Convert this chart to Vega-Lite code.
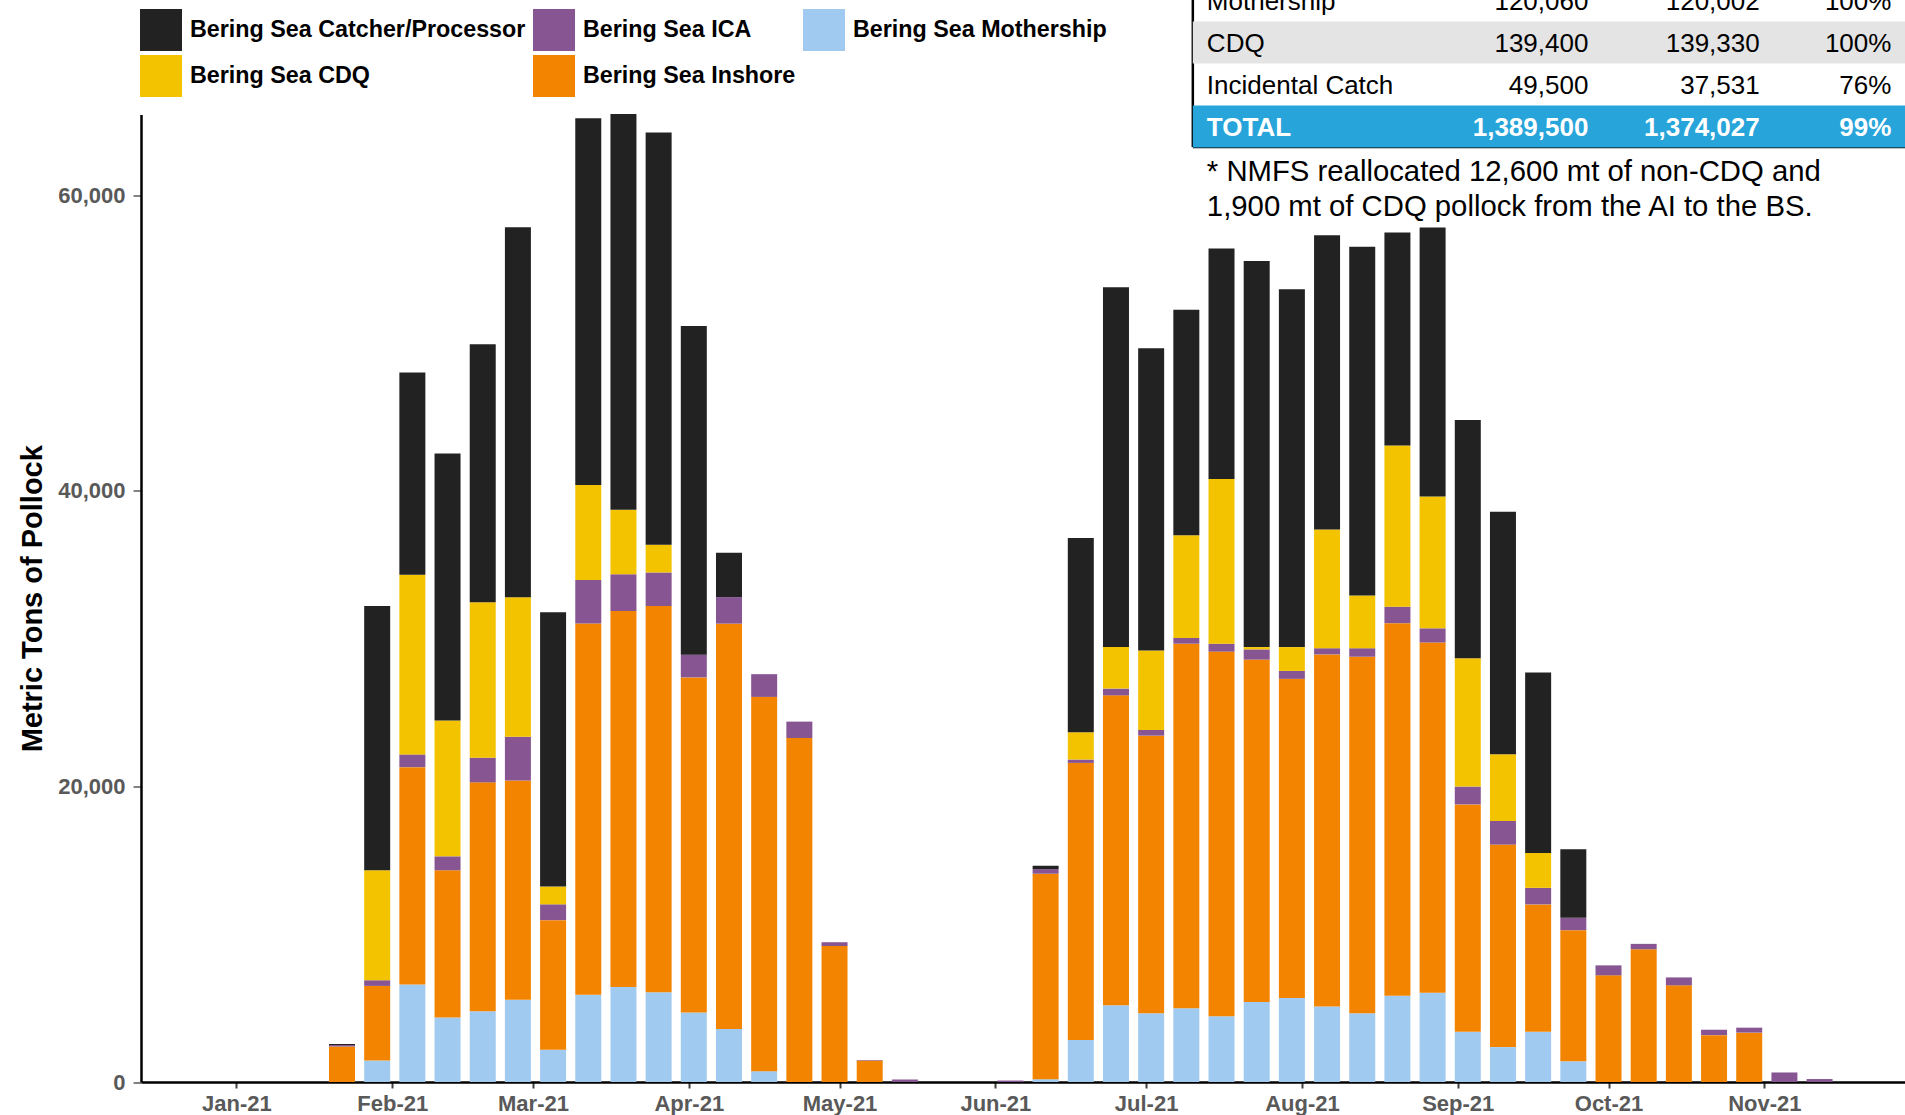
{
  "$schema": "https://vega.github.io/schema/vega-lite/v6.json",
  "width": 1764,
  "height": 967.5,
  "autosize": {"type": "none"},
  "padding": {"left": 141, "top": 114.5, "right": 0, "bottom": 33},
  "background": "white",
  "config": {"view": {"stroke": null}, "font": "Liberation Sans"},
  "datasets": {
    "weekly": [
      {"date": "2021-01-22T00:00", "Mothership": 0, "Inshore": 2400, "ICA": 100, "CDQ": 0, "Catcher/Processor": 70},
      {"date": "2021-01-29T00:00", "Mothership": 1450, "Inshore": 5050, "ICA": 385, "CDQ": 7440, "Catcher/Processor": 17880},
      {"date": "2021-02-05T00:00", "Mothership": 6590, "Inshore": 14710, "ICA": 860, "CDQ": 12150, "Catcher/Processor": 13690},
      {"date": "2021-02-12T00:00", "Mothership": 4360, "Inshore": 9965, "ICA": 940, "CDQ": 9195, "Catcher/Processor": 18050},
      {"date": "2021-02-19T00:00", "Mothership": 4790, "Inshore": 15480, "ICA": 1670, "CDQ": 10520, "Catcher/Processor": 17450},
      {"date": "2021-02-26T00:00", "Mothership": 5560, "Inshore": 14840, "ICA": 2950, "CDQ": 9450, "Catcher/Processor": 25020},
      {"date": "2021-03-05T00:00", "Mothership": 2180, "Inshore": 8770, "ICA": 1070, "CDQ": 1200, "Catcher/Processor": 18560},
      {"date": "2021-03-12T00:00", "Mothership": 5900, "Inshore": 25110, "ICA": 2950, "CDQ": 6420, "Catcher/Processor": 24810},
      {"date": "2021-03-19T00:00", "Mothership": 6420, "Inshore": 25450, "ICA": 2480, "CDQ": 4360, "Catcher/Processor": 26770},
      {"date": "2021-03-26T00:00", "Mothership": 6070, "Inshore": 26130, "ICA": 2270, "CDQ": 1880, "Catcher/Processor": 27890},
      {"date": "2021-04-02T00:00", "Mothership": 4700, "Inshore": 22670, "ICA": 1540, "CDQ": 0, "Catcher/Processor": 22240},
      {"date": "2021-04-09T00:00", "Mothership": 3590, "Inshore": 27415, "ICA": 1800, "CDQ": 0, "Catcher/Processor": 2990},
      {"date": "2021-04-16T00:00", "Mothership": 730, "Inshore": 25320, "ICA": 1540, "CDQ": 0, "Catcher/Processor": 0},
      {"date": "2021-04-23T00:00", "Mothership": 0, "Inshore": 23270, "ICA": 1110, "CDQ": 0, "Catcher/Processor": 0},
      {"date": "2021-04-30T00:00", "Mothership": 0, "Inshore": 9200, "ICA": 256, "CDQ": 0, "Catcher/Processor": 0},
      {"date": "2021-05-07T00:00", "Mothership": 0, "Inshore": 1450, "ICA": 40, "CDQ": 0, "Catcher/Processor": 0},
      {"date": "2021-05-14T00:00", "Mothership": 0, "Inshore": 0, "ICA": 170, "CDQ": 0, "Catcher/Processor": 0},
      {"date": "2021-06-04T00:00", "Mothership": 0, "Inshore": 0, "ICA": 100, "CDQ": 0, "Catcher/Processor": 0},
      {"date": "2021-06-11T00:00", "Mothership": 190, "Inshore": 13900, "ICA": 310, "CDQ": 0, "Catcher/Processor": 230},
      {"date": "2021-06-18T00:00", "Mothership": 2840, "Inshore": 18745, "ICA": 230, "CDQ": 1845, "Catcher/Processor": 13135},
      {"date": "2021-06-25T00:00", "Mothership": 5185, "Inshore": 20970, "ICA": 460, "CDQ": 2805, "Catcher/Processor": 24350},
      {"date": "2021-07-02T00:00", "Mothership": 4650, "Inshore": 18780, "ICA": 385, "CDQ": 5380, "Catcher/Processor": 20435},
      {"date": "2021-07-09T00:00", "Mothership": 4990, "Inshore": 24660, "ICA": 385, "CDQ": 6950, "Catcher/Processor": 15250},
      {"date": "2021-07-16T00:00", "Mothership": 4455, "Inshore": 24660, "ICA": 540, "CDQ": 11140, "Catcher/Processor": 15595},
      {"date": "2021-07-23T00:00", "Mothership": 5415, "Inshore": 23160, "ICA": 690, "CDQ": 155, "Catcher/Processor": 26120},
      {"date": "2021-07-30T00:00", "Mothership": 5685, "Inshore": 21585, "ICA": 540, "CDQ": 1610, "Catcher/Processor": 24200},
      {"date": "2021-08-06T00:00", "Mothership": 5110, "Inshore": 23815, "ICA": 420, "CDQ": 8030, "Catcher/Processor": 19900},
      {"date": "2021-08-13T00:00", "Mothership": 4650, "Inshore": 24120, "ICA": 575, "CDQ": 3570, "Catcher/Processor": 23585},
      {"date": "2021-08-20T00:00", "Mothership": 5840, "Inshore": 25200, "ICA": 1115, "CDQ": 10910, "Catcher/Processor": 14405},
      {"date": "2021-08-27T00:00", "Mothership": 6030, "Inshore": 23700, "ICA": 960, "CDQ": 8910, "Catcher/Processor": 18205},
      {"date": "2021-09-03T00:00", "Mothership": 3400, "Inshore": 15380, "ICA": 1205, "CDQ": 8675, "Catcher/Processor": 16120},
      {"date": "2021-09-10T00:00", "Mothership": 2360, "Inshore": 13700, "ICA": 1600, "CDQ": 4520, "Catcher/Processor": 16390},
      {"date": "2021-09-17T00:00", "Mothership": 3395, "Inshore": 8620, "ICA": 1120, "CDQ": 2360, "Catcher/Processor": 12210},
      {"date": "2021-09-24T00:00", "Mothership": 1400, "Inshore": 8870, "ICA": 840, "CDQ": 0, "Catcher/Processor": 4630},
      {"date": "2021-10-01T00:00", "Mothership": 0, "Inshore": 7215, "ICA": 675, "CDQ": 0, "Catcher/Processor": 0},
      {"date": "2021-10-08T00:00", "Mothership": 0, "Inshore": 8980, "ICA": 365, "CDQ": 0, "Catcher/Processor": 0},
      {"date": "2021-10-15T00:00", "Mothership": 0, "Inshore": 6540, "ICA": 535, "CDQ": 0, "Catcher/Processor": 0},
      {"date": "2021-10-22T00:00", "Mothership": 0, "Inshore": 3170, "ICA": 365, "CDQ": 0, "Catcher/Processor": 0},
      {"date": "2021-10-29T00:00", "Mothership": 0, "Inshore": 3340, "ICA": 335, "CDQ": 0, "Catcher/Processor": 0},
      {"date": "2021-11-05T00:00", "Mothership": 0, "Inshore": 0, "ICA": 645, "CDQ": 0, "Catcher/Processor": 0},
      {"date": "2021-11-12T00:00", "Mothership": 0, "Inshore": 0, "ICA": 200, "CDQ": 0, "Catcher/Processor": 0}
    ],
    "table": [
      {"row": "Mothership", "alloc": "120,060", "catch": "120,002", "pct": "100%"},
      {"row": "CDQ", "alloc": "139,400", "catch": "139,330", "pct": "100%"},
      {"row": "Incidental Catch", "alloc": "49,500", "catch": "37,531", "pct": "76%"},
      {"row": "TOTAL", "alloc": "1,389,500", "catch": "1,374,027", "pct": "99%"}
    ],
    "note": [{"text": "* NMFS reallocated 12,600 mt of non-CDQ and\n1,900 mt of CDQ pollock from the AI to the BS."}],
    "one": [{}]
  },
  "layer": [
    {
      "layer": [
        {
          "data": {"name": "weekly"},
          "transform": [
            {"fold": ["Mothership", "Inshore", "ICA", "CDQ", "Catcher/Processor"], "as": ["fleet", "tons"]},
            {"calculate": "indexof(['Mothership','Inshore','ICA','CDQ','Catcher/Processor'], datum.fleet)", "as": "rank"}
          ],
          "mark": {"type": "bar", "size": 26},
          "encoding": {
            "x": {
              "field": "date", "type": "temporal",
              "scale": {"domain": [{"year": 2020, "month": 12, "date": 14}, {"year": 2021, "month": 11, "date": 28}]},
              "axis": {
                "format": "%b-%y", "tickCount": {"interval": "month", "step": 1}, "grid": false,
                "domainColor": "#000000", "domainWidth": 2.5, "tickColor": "#404040", "tickWidth": 2, "tickSize": 6,
                "labelPadding": 5.5, "labelFontSize": 22, "labelFontWeight": "bold", "labelColor": "#595959",
                "labelFlush": false, "labelOverlap": false, "title": null
              }
            },
            "y": {
              "field": "tons", "type": "quantitative", "stack": "zero",
              "scale": {"domain": [0, 65450], "nice": false},
              "axis": {
                "values": [0, 20000, 40000, 60000], "labelExpr": "format(datum.value, ',')", "grid": false,
                "domainColor": "#000000", "domainWidth": 2.5, "tickColor": "#595959", "tickWidth": 1.5, "tickSize": 8,
                "labelPadding": 8, "labelFontSize": 22, "labelFontWeight": "bold", "labelColor": "#595959",
                "title": "Metric Tons of Pollock", "titleFontSize": 29, "titleFontWeight": "bold", "titleColor": "#000000", "titlePadding": 10
              }
            },
            "color": {
              "field": "fleet", "type": "nominal",
              "scale": {
                "domain": ["Catcher/Processor", "ICA", "Mothership", "CDQ", "Inshore"],
                "range": ["#222222", "#875692", "#A1CAF1", "#F3C300", "#F38400"]
              },
              "legend": {
                "orient": "none", "legendX": -1, "legendY": -105.5, "direction": "horizontal", "columns": 3,
                "title": null, "symbolType": "square", "symbolSize": 1764, "symbolStrokeWidth": 0,
                "labelFontSize": 23.3, "labelFontWeight": "bold", "labelColor": "#000000", "labelOffset": 8,
                "labelLimit": 0, "columnPadding": 7, "rowPadding": 4, "padding": 0,
                "labelExpr": "'Bering Sea ' + datum.label"
              }
            },
            "order": {"field": "rank", "type": "quantitative", "sort": "ascending"}
          }
        },
        {
          "data": {"name": "note"},
          "mark": {"type": "text", "align": "left", "baseline": "alphabetic", "fontSize": 29.3, "lineBreak": "\n", "lineHeight": 35, "color": "#000000"},
          "encoding": {
            "x": {"datum": {"year": 2021, "month": 7, "date": 13, "hours": 2}, "type": "temporal"},
            "y": {"datum": 60918, "type": "quantitative"},
            "text": {"field": "text"}
          }
        },
        {
          "data": {"name": "one"},
          "mark": {"type": "rule", "color": "#000000", "strokeWidth": 2.5},
          "encoding": {
            "x": {"datum": {"year": 2021, "month": 7, "date": 10, "hours": 7}, "type": "temporal"},
            "y": {"datum": 63252, "type": "quantitative"},
            "y2": {"datum": 76000}
          }
        },
        {
          "data": {"name": "one"},
          "mark": {"type": "rule", "color": "#000000", "strokeWidth": 2.5},
          "encoding": {
            "x": {"datum": {"year": 2021, "month": 7, "date": 10, "hours": 7}, "type": "temporal"},
            "x2": {"datum": {"year": 2021, "month": 12, "date": 20}},
            "y": {"datum": 63252, "type": "quantitative"}
          }
        }
      ]
    },
    {
      "data": {"name": "table"},
      "encoding": {
        "y": {
          "field": "row", "type": "nominal",
          "scale": {"type": "band", "domain": ["Mothership", "CDQ", "Incidental Catch", "TOTAL"], "range": [-135, 33], "paddingInner": 0, "paddingOuter": 0},
          "axis": null
        }
      },
      "layer": [
        {
          "transform": [{"filter": "datum.row === 'CDQ'"}],
          "mark": {"type": "bar", "color": "#E4E4E4"},
          "encoding": {
            "x": {"datum": {"year": 2021, "month": 7, "date": 10, "hours": 7}, "type": "temporal"},
            "x2": {"datum": {"year": 2021, "month": 12, "date": 20}}
          }
        },
        {
          "transform": [{"filter": "datum.row === 'TOTAL'"}],
          "mark": {"type": "bar", "color": "#27A4DA"},
          "encoding": {
            "x": {"datum": {"year": 2021, "month": 7, "date": 10, "hours": 7}, "type": "temporal"},
            "x2": {"datum": {"year": 2021, "month": 12, "date": 20}}
          }
        },
        {
          "transform": [{"filter": "datum.row !== 'TOTAL'"}],
          "mark": {"type": "text", "align": "left", "baseline": "middle", "fontSize": 26, "color": "#000000", "dy": 1.5},
          "encoding": {"x": {"datum": {"year": 2021, "month": 7, "date": 13, "hours": 2}, "type": "temporal"}, "text": {"field": "row"}}
        },
        {
          "transform": [{"filter": "datum.row !== 'TOTAL'"}],
          "mark": {"type": "text", "align": "right", "baseline": "middle", "fontSize": 26, "color": "#000000", "dy": 1.5},
          "encoding": {"x": {"datum": {"year": 2021, "month": 9, "date": 27}, "type": "temporal"}, "text": {"field": "alloc"}}
        },
        {
          "transform": [{"filter": "datum.row !== 'TOTAL'"}],
          "mark": {"type": "text", "align": "right", "baseline": "middle", "fontSize": 26, "color": "#000000", "dy": 1.5},
          "encoding": {"x": {"datum": {"year": 2021, "month": 10, "date": 31, "hours": 2}, "type": "temporal"}, "text": {"field": "catch"}}
        },
        {
          "transform": [{"filter": "datum.row !== 'TOTAL'"}],
          "mark": {"type": "text", "align": "right", "baseline": "middle", "fontSize": 26, "color": "#000000", "dy": 1.5},
          "encoding": {"x": {"datum": {"year": 2021, "month": 11, "date": 26, "hours": 7}, "type": "temporal"}, "text": {"field": "pct"}}
        },
        {
          "transform": [{"filter": "datum.row === 'TOTAL'"}],
          "mark": {"type": "text", "align": "left", "baseline": "middle", "fontSize": 26, "fontWeight": "bold", "color": "#FFFFFF", "dy": 1.5},
          "encoding": {"x": {"datum": {"year": 2021, "month": 7, "date": 13, "hours": 2}, "type": "temporal"}, "text": {"field": "row"}}
        },
        {
          "transform": [{"filter": "datum.row === 'TOTAL'"}],
          "mark": {"type": "text", "align": "right", "baseline": "middle", "fontSize": 26, "fontWeight": "bold", "color": "#FFFFFF", "dy": 1.5},
          "encoding": {"x": {"datum": {"year": 2021, "month": 9, "date": 27}, "type": "temporal"}, "text": {"field": "alloc"}}
        },
        {
          "transform": [{"filter": "datum.row === 'TOTAL'"}],
          "mark": {"type": "text", "align": "right", "baseline": "middle", "fontSize": 26, "fontWeight": "bold", "color": "#FFFFFF", "dy": 1.5},
          "encoding": {"x": {"datum": {"year": 2021, "month": 10, "date": 31, "hours": 2}, "type": "temporal"}, "text": {"field": "catch"}}
        },
        {
          "transform": [{"filter": "datum.row === 'TOTAL'"}],
          "mark": {"type": "text", "align": "right", "baseline": "middle", "fontSize": 26, "fontWeight": "bold", "color": "#FFFFFF", "dy": 1.5},
          "encoding": {"x": {"datum": {"year": 2021, "month": 11, "date": 26, "hours": 7}, "type": "temporal"}, "text": {"field": "pct"}}
        }
      ]
    }
  ],
  "resolve": {"scale": {"y": "independent"}}
}
